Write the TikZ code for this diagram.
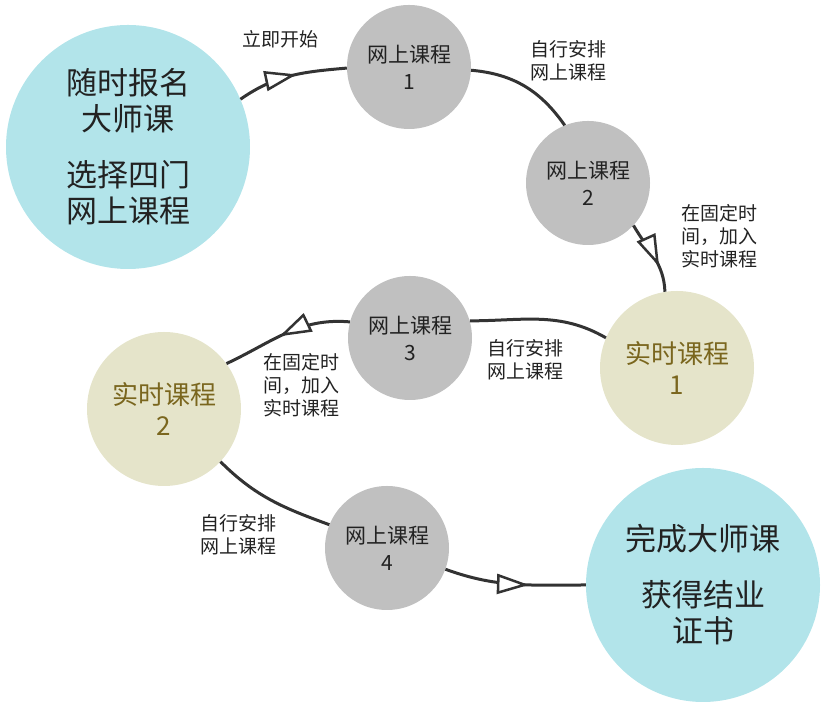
\documentclass[tikz,border=0pt]{standalone}
\usepackage{fontspec}
\newfontfamily\cjk{Noto Sans CJK SC}
\usetikzlibrary{arrows.meta,decorations.markings}

\begin{document}
\begin{tikzpicture}[x=1pt, y=1pt,
        stagebig/.style={circle, fill=mycyan, minimum size=#1, inner sep=0pt, text=mytext, align=center, font=\cjk\fontsize{31}{36}\selectfont},
        online/.style={circle, fill=mygray, minimum size=124pt, inner sep=0pt, text=mytext, align=center, font=\cjk\fontsize{21}{27}\selectfont},
        live/.style={circle, fill=mybeige, minimum size=154pt, inner sep=0pt, text=myolive, align=center, font=\cjk\fontsize{26}{31}\selectfont},
        note/.style={text=mytext, align=center, font=\cjk\fontsize{19}{23}\selectfont},
        link/.style={draw=myline, line width=3pt},
        midarrow/.style={postaction={decorate, decoration={markings, mark=at position #1 with {\arrow{Triangle[length=32pt, width=20pt, fill=white, line width=2.5pt]}}}}}]
        \definecolor{mycyan}{RGB}{178,228,234}
        \definecolor{mygray}{RGB}{192,192,192}
        \definecolor{mybeige}{RGB}{229,228,202}
        \definecolor{myolive}{RGB}{122,102,30}
        \definecolor{mytext}{RGB}{34,34,34}
        \definecolor{myline}{RGB}{51,51,51}

        \useasboundingbox (0,0) rectangle (825,708);

        \node[stagebig=244pt] (start) at (128,561) {随时报名\\大师课\\[20pt]选择四门\\网上课程};
        \node[online] (web1) at (409,641) {网上课程\\1};
        \node[online] (web2) at (588,525) {网上课程\\2};
        \node[live] (live1) at (677,340) {实时课程\\1};
        \node[online] (web3) at (410,370) {网上课程\\3};
        \node[live] (live2) at (164,299) {实时课程\\2};
        \node[online] (web4) at (387,160) {网上课程\\4};
        \node[stagebig=234pt] (finish) at (703,123) {完成大师课\\[20pt]获得结业\\证书};

        \node[note] (startnote) at (280,669) {立即开始};
        \node[note] (selfnote1) at (568,647) {自行安排\\网上课程};
        \node[note] (fixnote1) at (719,472) {在固定时\\间，加入\\实时课程};
        \node[note] (selfnote2) at (525,348) {自行安排\\网上课程};
        \node[note] (fixnote2) at (301,323) {在固定时\\间，加入\\实时课程};
        \node[note] (selfnote3) at (238,173) {自行安排\\网上课程};

        \draw[link, midarrow=0.55] (start.23) to[out=35, in=185] (web1.181);
        \draw[link] (web1.-3) to[out=-5, in=125] (web2.112);
        \draw[link, midarrow=0.65] (web2.-43) to[out=-60, in=92] (live1.99);
        \draw[link] (live1.157) to[out=150, in=0] (web3.16);
        \draw[link, midarrow=0.55] (web3.165) to[out=175, in=25] (live2.36);
        \draw[link] (live2.-43) to[out=-45, in=160] (web4.158);
        \draw[link, midarrow=0.6] (web4.-20) to[out=-20, in=180] (finish.180);
\end{tikzpicture}
\end{document}
